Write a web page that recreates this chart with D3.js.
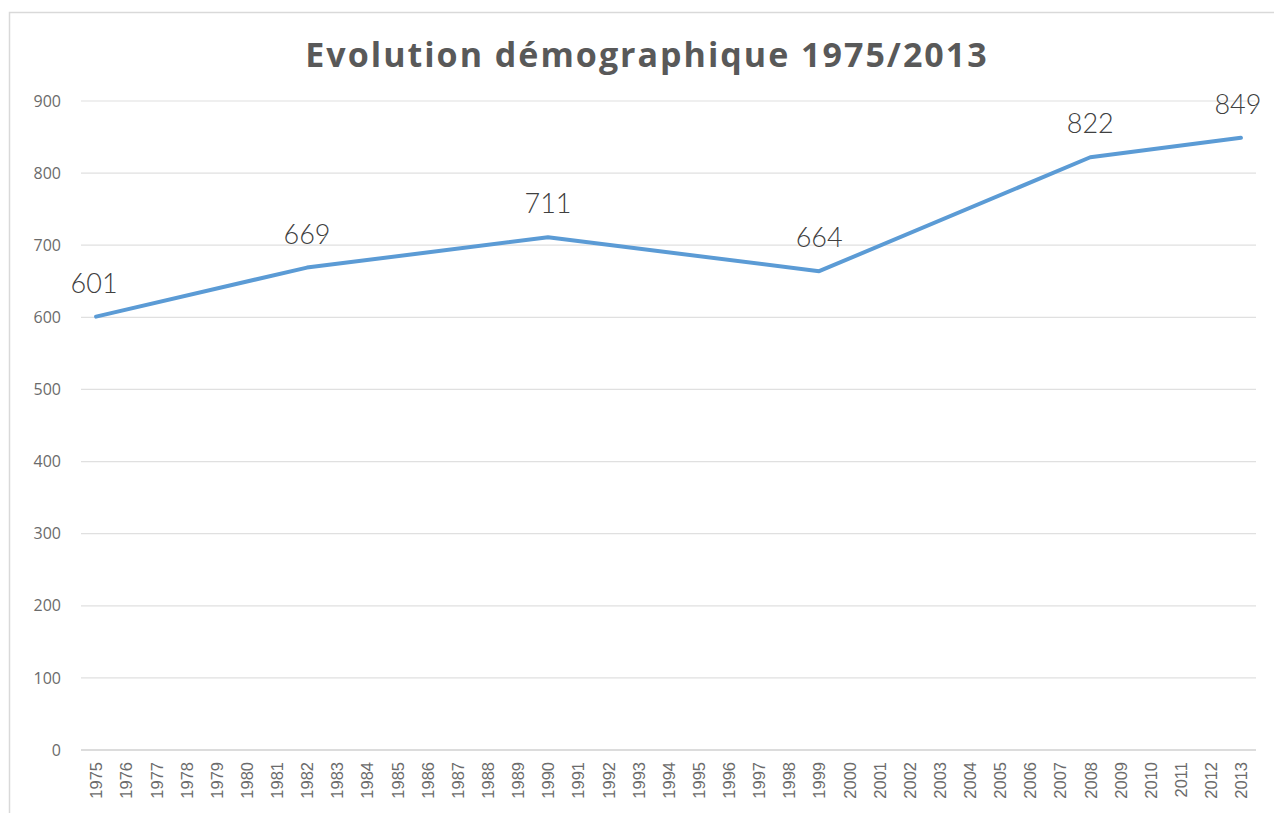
<!DOCTYPE html>
<html>
<head>
<meta charset="utf-8">
<script src="https://cdn.jsdelivr.net/npm/d3@7"></script>
<style>
  body { margin: 0; background: #fff; }
  svg { display: block; }
</style>
</head>
<body>
<div id="chart"></div>
<script>
var titleText = "Evolution démographique 1975/2013";

var yearLabels = [];
for (var y = 1975; y <= 2013; y++) yearLabels.push(String(y));

var censusYears = ["1975", "1982", "1990", "1999", "2008", "2013"];
var population = [601, 669, 711, 664, 822, 849];

var yTicks = [0, 100, 200, 300, 400, 500, 600, 700, 800, 900];

const svg = d3
  .select("#chart")
  .append("svg")
  .attr("width", 1274)
  .attr("height", 813);

svg
  .append("rect")
  .attr("x", 9.5)
  .attr("y", 12.5)
  .attr("width", 1300)
  .attr("height", 900)
  .attr("fill", "#fff")
  .attr("stroke", "#d9d9d9")
  .attr("stroke-width", 1.5);

const xScale = d3.scalePoint().domain(yearLabels).range([81, 1256]).padding(0.5);
const yScale = d3.scaleLinear().domain([0, 900]).range([750, 101]);

// grid
svg
  .append("g")
  .selectAll("line")
  .data(yTicks)
  .enter()
  .append("line")
  .attr("x1", 81)
  .attr("x2", 1256)
  .attr("y1", (d) => yScale(d))
  .attr("y2", (d) => yScale(d))
  .attr("stroke", (d) => (d === 0 ? "#d0d0d0" : "#e0e0e0"))
  .attr("stroke-width", (d) => (d === 0 ? 1.5 : 1.2));

const yAxis = d3.axisLeft(yScale).tickValues(yTicks).tickSize(0).tickPadding(0);
const yG = svg.append("g").attr("transform", "translate(61,0)").call(yAxis);
yG.select(".domain").remove();
yG.selectAll("text")
  .attr("fill", "#6b6b6b")
  .style("font-family", "'Open Sans', sans-serif")
  .style("font-size", "16px");

const xAxis = d3.axisBottom(xScale).tickSize(0).tickPadding(0);
const xG = svg.append("g").attr("transform", "translate(0,750)").call(xAxis);
xG.select(".domain").remove();
xG.selectAll("text")
  .attr("fill", "#6b6b6b")
  .attr("text-anchor", "end")
  .attr("transform", "rotate(-90)")
  .attr("x", -12)
  .attr("y", 0)
  .attr("dy", "0.35em")
  .style("font-family", "'Liberation Sans', sans-serif")
  .style("font-size", "16.5px");

const points = censusYears.map((yr, i) => ({ year: yr, value: population[i] }));

const line = d3
  .line()
  .x((d) => xScale(d.year))
  .y((d) => yScale(d.value));

svg
  .append("path")
  .datum(points)
  .attr("d", line)
  .attr("fill", "none")
  .attr("stroke", "#5b9bd5")
  .attr("stroke-width", 4)
  .attr("stroke-linejoin", "round")
  .attr("stroke-linecap", "round");

svg
  .append("g")
  .selectAll("text")
  .data(points)
  .enter()
  .append("text")
  .attr("x", (d, i) => xScale(d.year) + (i === points.length - 1 ? -3 : i === 0 ? -2 : 0))
  .attr("y", (d) => yScale(d.value) - 24)
  .attr("text-anchor", "middle")
  .attr("fill", "#404040")
  .style("font-family", "'Lato', sans-serif")
  .style("font-weight", 300)
  .style("font-size", "27px")
  .text((d) => d.value);

svg
  .append("text")
  .attr("x", 647)
  .attr("y", 67)
  .attr("text-anchor", "middle")
  .attr("fill", "#595959")
  .style("font-family", "'Open Sans', sans-serif")
  .style("font-weight", "bold")
  .style("font-size", "34px")
  .style("letter-spacing", "2px")
  .text(titleText);
</script>
</body>
</html>
